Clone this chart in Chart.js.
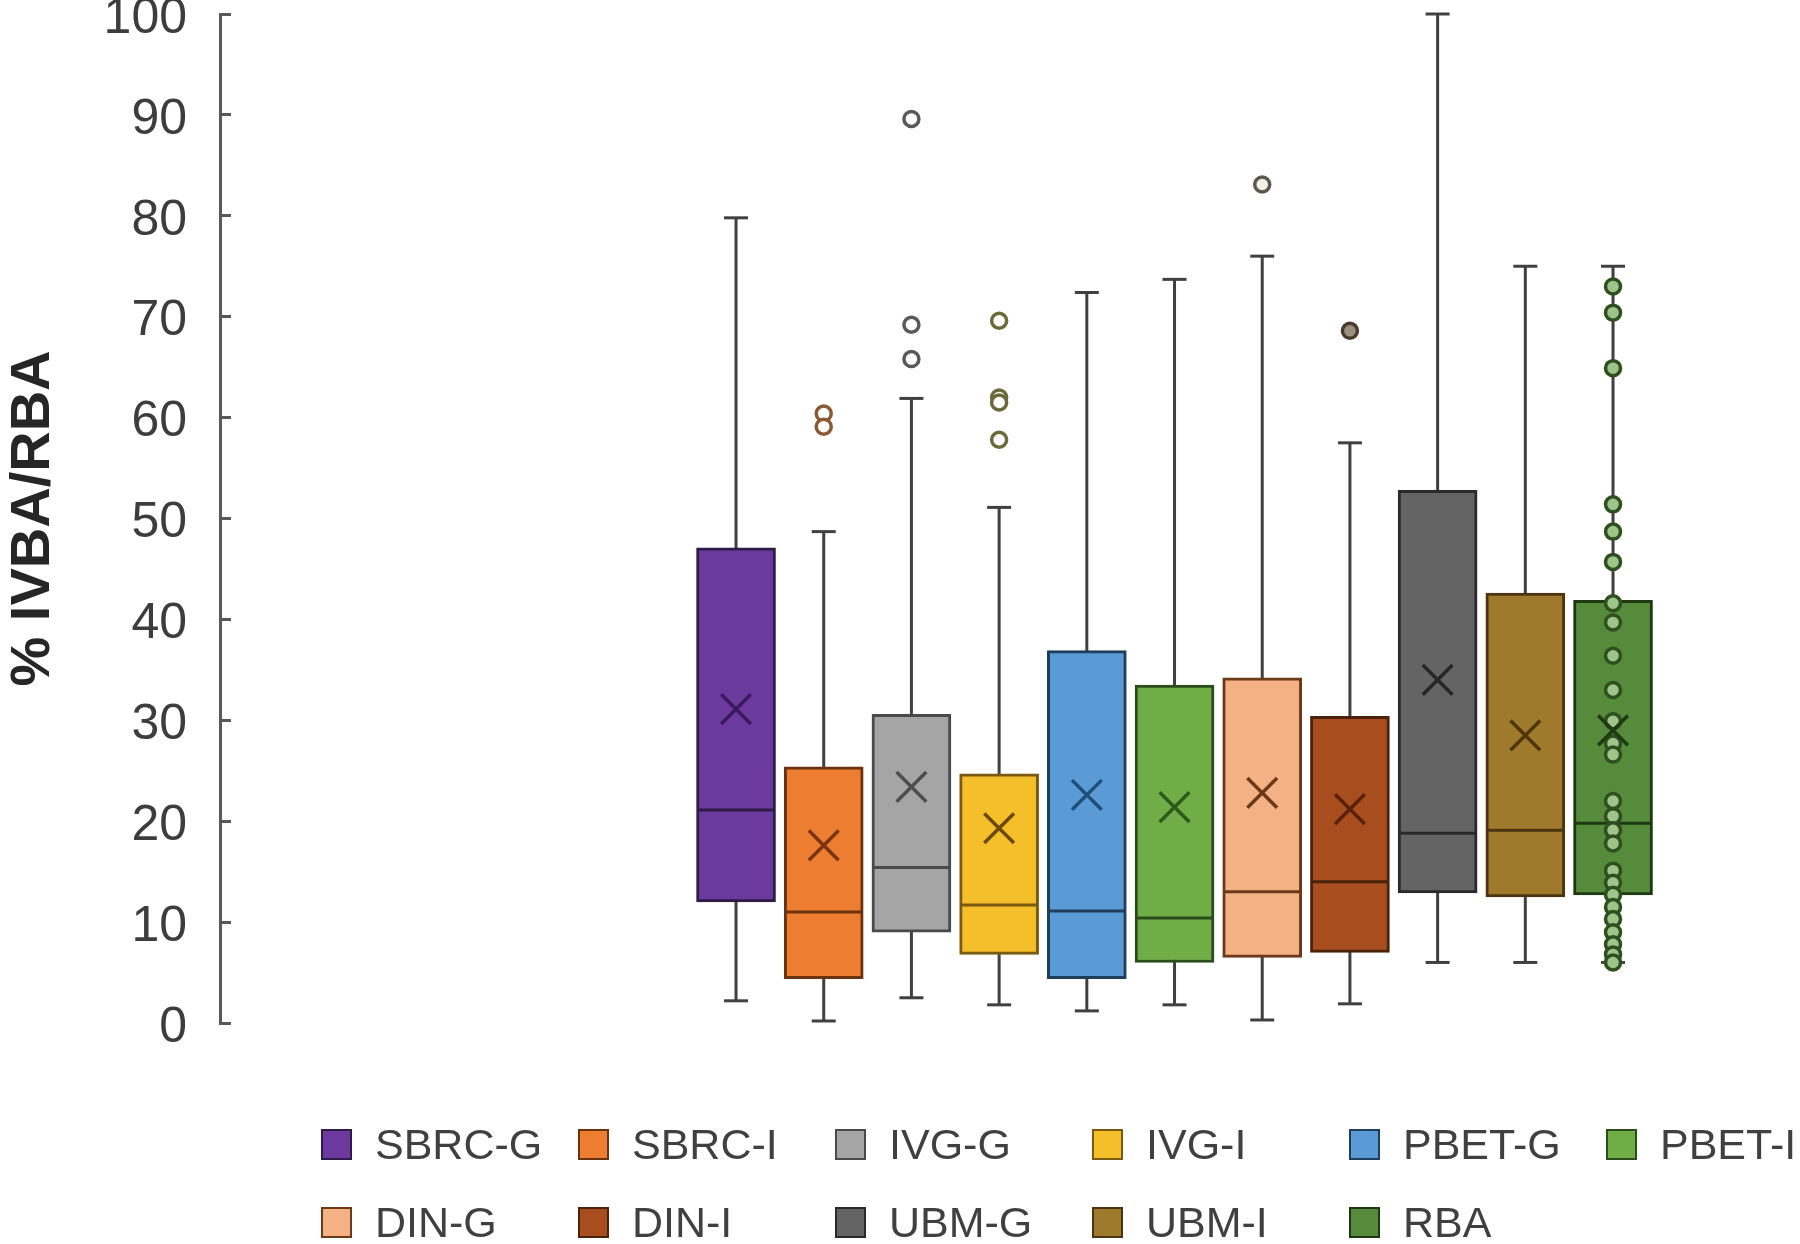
<!DOCTYPE html>
<html>
<head>
<meta charset="utf-8">
<script src="https://cdn.jsdelivr.net/npm/chart.js@4.4.1/dist/chart.umd.min.js"></script>
<style>
html,body{margin:0;padding:0;background:#ffffff;overflow:hidden;}
#wrap{position:relative;width:1800px;height:1244px;overflow:hidden;background:#fff;}
#c{position:absolute;left:0;top:0;}
#legend{position:absolute;left:321px;top:1105px;display:grid;grid-template-columns:repeat(6,257px);grid-auto-rows:78px;font-family:"Liberation Sans",Arial,sans-serif;font-size:43px;color:#404040;}
.item{display:flex;align-items:center;white-space:nowrap;}
.sw{width:27px;height:27px;border:2px solid #333;margin-right:23px;flex:none;box-sizing:content-box;}
</style>
</head>
<body>
<div id="wrap">
<canvas id="c" width="1800" height="1244"></canvas>
<div id="legend"></div>
</div>
<script>
// ---- data ----
const categories = ['SBRC-G','SBRC-I','IVG-G','IVG-I','PBET-G','PBET-I','DIN-G','DIN-I','UBM-G','UBM-I','RBA'];
const minVals    = [2.2, 0.2, 2.5, 1.8, 1.2, 1.8, 0.3, 1.9, 6.0, 6.0, 6.0];
const q1Vals     = [12.0, 4.4, 9.0, 6.8, 4.4, 6.0, 6.5, 7.0, 12.9, 12.5, 12.7];
const medianVals = [21.1, 11.0, 15.4, 11.7, 11.1, 10.4, 13.0, 14.0, 18.8, 19.1, 19.8];
const q3Vals     = [47.1, 25.4, 30.6, 24.7, 36.9, 33.5, 34.2, 30.4, 52.8, 42.6, 41.9];
const maxVals    = [79.8, 48.7, 61.9, 51.1, 72.4, 73.7, 76.0, 57.5, 100, 75.0, 75.0];
const meanVals   = [31.1, 17.6, 23.4, 19.3, 22.6, 21.4, 22.8, 21.2, 34.0, 28.5, 29.0];
const outlierVals = [
  [],
  [60.4, 59.1],
  [89.6, 69.2, 65.8],
  [69.6, 62.0, 61.5, 57.8],
  [],
  [],
  [83.1],
  [68.6],
  [],
  [],
  [73.0, 70.4, 64.9, 51.4, 48.7, 45.7, 41.6, 39.7, 36.4, 33.0, 29.9, 27.7, 26.6,
   22.0, 20.5, 19.1, 17.8, 15.1, 13.9, 12.7, 11.5, 10.3, 9.0, 7.8, 6.8, 6.0]
];
const yTicks = [0, 10, 20, 30, 40, 50, 60, 70, 80, 90, 100];

// ---- styles ----
const fillColors   = ['#6C399F','#ED7D31','#A5A5A5','#F4BF2A','#5B9BD5','#70AD47','#F4B183','#A84E1E','#646464','#A07A2C','#558B3A'];
const edgeColors   = ['#2F1A48','#6B3210','#4A4A4A','#7A5A10','#1F3E5E','#2B4D1C','#6B3A18','#4A2208','#2A2A2A','#4A3510','#1E3812'];
const meanColors   = ['#3A1A5C','#7A3410','#4D4D4D','#6B4A00','#1F4E79','#2C5A1A','#6B3A1A','#5A200A','#262626','#4D3608','#1E3A10'];
const outEdge      = ['#404040','#8A5A34','#595959','#6B6A3A','#404040','#404040','#5C5A4F','#4A3A2E','#404040','#404040','#2F4F1F'];
const outFill      = ['#fff','#fff','#fff','#fff','#fff','#fff','#f3f0e6','#9a9080','#fff','#fff','#9fc48a'];
const whiskerColor = '#404040';

const X_MIN = -4.884, X_MAX = 13.132;

const xs = categories.map((_, i) => i + 1);

const datasets = [];
datasets.push({
  type: 'bar', label: 'whiskers', order: 5, grouped: false, clip: false,
  data: categories.map((_, i) => ({x: xs[i], y: [minVals[i], maxVals[i]]})),
  backgroundColor: whiskerColor, borderWidth: 0, maxBarThickness: 3,
  categoryPercentage: 1, barPercentage: 0.5
});
datasets.push({
  type: 'bar', label: 'boxes', order: 4, grouped: false, clip: false,
  data: categories.map((_, i) => ({x: xs[i], y: [q1Vals[i], q3Vals[i]]})),
  backgroundColor: fillColors, borderColor: edgeColors, borderWidth: 3, borderSkipped: false,
  maxBarThickness: 79, categoryPercentage: 1, barPercentage: 1
});
datasets.push({
  type: 'scatter', label: 'caps', order: 3, clip: false,
  data: categories.flatMap((_, i) => [{x: xs[i], y: minVals[i]}, {x: xs[i], y: maxVals[i]}]),
  pointStyle: 'line', pointRadius: 12, pointBorderWidth: 3, pointBorderColor: whiskerColor
});
datasets.push({
  type: 'scatter', label: 'medians', order: 3, clip: false,
  data: categories.map((_, i) => ({x: xs[i], y: medianVals[i]})),
  pointStyle: 'line', pointRadius: 38, pointBorderWidth: 3, pointBorderColor: edgeColors
});
categories.forEach((c, i) => {
  if (!outlierVals[i].length) return;
  datasets.push({
    type: 'scatter', label: c + ' points', order: 2, clip: false,
    data: outlierVals[i].map(v => ({x: xs[i], y: v})),
    pointStyle: 'circle', pointRadius: 7.5, pointBorderWidth: 3.5,
    pointBorderColor: outEdge[i], pointBackgroundColor: outFill[i]
  });
});
datasets.push({
  type: 'scatter', label: 'means', order: 1, clip: false,
  data: categories.map((_, i) => ({x: xs[i], y: meanVals[i]})),
  pointStyle: 'crossRot', pointRadius: 21, pointBorderWidth: 3.5, pointBorderColor: meanColors
});

new Chart(document.getElementById('c'), {
  type: 'bar',
  data: {datasets},
  options: {
    responsive: false, animation: false, devicePixelRatio: 1, events: [],
    layout: {autoPadding: false, padding: {top: 14, right: 0, bottom: 221, left: 0}},
    plugins: {legend: {display: false}, tooltip: {enabled: false}},
    scales: {
      x: {
        type: 'linear', min: X_MIN, max: X_MAX, display: false, offset: false,
        grid: {offset: false},
        afterBuildTicks: s => { s.ticks = []; }
      },
      y: {
        type: 'linear', min: 0, max: 100,
        afterBuildTicks: s => { s.ticks = yTicks.map(v => ({value: v})); },
        afterFit: s => { s.width = 220; s.paddingTop = 0; s.paddingBottom = 0; },
        ticks: {color: '#3d3d3d', padding: 44, labelOffset: 5, font: {family: 'Liberation Sans', size: 50, lineHeight: 1}},
        grid: {display: true, drawOnChartArea: false, drawTicks: true, tickLength: -11, tickWidth: 3, tickColor: '#595959'},
        border: {display: true, color: '#595959', width: 3},
        title: {display: true, text: '% IVBA/RBA', color: '#262626',
                font: {family: 'Liberation Sans', size: 56, weight: 'bold', lineHeight: 1},
                padding: {top: 6, bottom: 0}}
      }
    }
  }
});

// legend (real text)
const lg = document.getElementById('legend');
categories.forEach((c, i) => {
  const it = document.createElement('div'); it.className = 'item';
  const sw = document.createElement('span'); sw.className = 'sw';
  sw.style.background = fillColors[i]; sw.style.borderColor = edgeColors[i];
  const tx = document.createElement('span'); tx.textContent = c;
  it.appendChild(sw); it.appendChild(tx); lg.appendChild(it);
});
</script>
</body>
</html>
